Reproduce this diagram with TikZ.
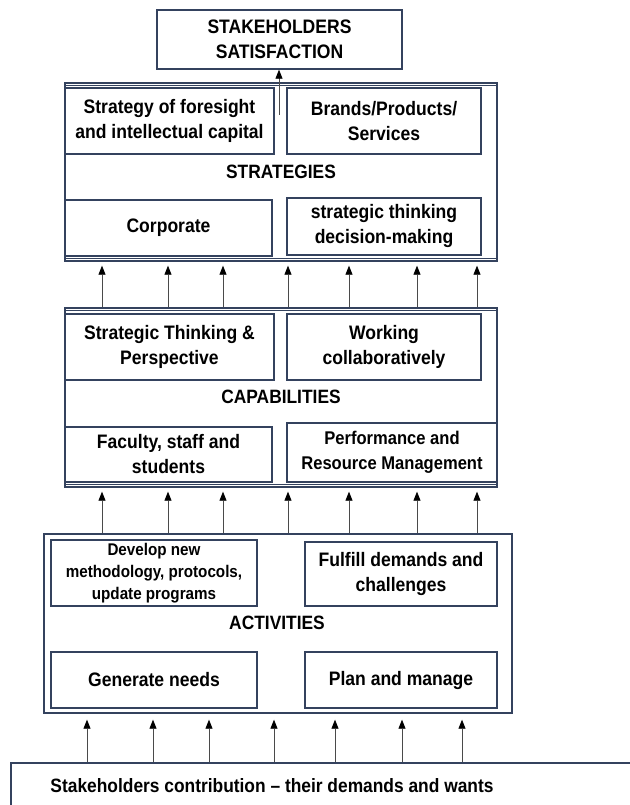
\documentclass[tikz,border=0pt]{standalone}
\usepackage{fontspec}
\setmainfont{Liberation Sans}[FakeStretch=0.9]
\usetikzlibrary{arrows.meta}
\definecolor{frame}{HTML}{34425E}
\definecolor{wire}{HTML}{4A4A4A}
\begin{document}
\begin{tikzpicture}[x=1pt,y=-1pt,
  box/.style={draw=frame, line width=1.4pt, fill=white, align=center,
    inner sep=0pt, font=\bfseries\fontsize{19.5}{25}\selectfont},
  smallbox/.style={box, font=\bfseries\fontsize{16.9}{22}\selectfont},
  midbox/.style={box, font=\bfseries\fontsize{18.4}{25}\selectfont},
  layer/.style={draw=frame, line width=1.4pt, inner sep=0pt},
  title/.style={font=\bfseries\fontsize{19.3}{25}\selectfont, inner sep=0pt},
  arr/.style={draw=wire, line width=0.8pt,
    -{Triangle[length=9pt,width=7pt,color=black]}}]
\useasboundingbox (0,0) rectangle (629,805);

% top result
\node[box, minimum width=245pt, minimum height=59pt] (top) at (279.5,39.5)
  {STAKEHOLDERS\\SATISFACTION};

% strategies layer
\node[layer, minimum width=432pt, minimum height=178pt] (strat) at (281,172) {};
\draw[frame, line width=1.2pt] ([yshift=-3pt]strat.north west) -- ([yshift=-3pt]strat.north east);
\draw[frame, line width=1.2pt] ([yshift=3pt]strat.south west) -- ([yshift=3pt]strat.south east);
\node[box, minimum width=209pt, minimum height=66pt] (s1) at (169.5,121)
  {Strategy of foresight\\and intellectual capital};
\node[box, minimum width=194pt, minimum height=66pt] (s2) at (384,121)
  {Brands/Products/\\Services};
\node[title] (stratlbl) at (281,172) {STRATEGIES};
\node[box, minimum width=207pt, minimum height=56pt] (s3) at (168.5,228) {Corporate};
\node[box, minimum width=194pt, minimum height=57pt] (s4) at (384,226.5)
  {strategic thinking\\decision-making};

% capabilities layer
\node[layer, minimum width=432pt, minimum height=179pt] (cap) at (281,397.5) {};
\draw[frame, line width=1.2pt] ([yshift=-3pt]cap.north west) -- ([yshift=-3pt]cap.north east);
\draw[frame, line width=1.2pt] ([yshift=3pt]cap.south west) -- ([yshift=3pt]cap.south east);
\node[box, minimum width=209pt, minimum height=66pt] (c1) at (169.5,347)
  {Strategic Thinking \&\\Perspective};
\node[box, minimum width=194pt, minimum height=66pt] (c2) at (384,347)
  {Working\\collaboratively};
\node[title] (caplbl) at (281,397) {CAPABILITIES};
\node[box, minimum width=207pt, minimum height=55pt] (c3) at (168.5,454.5)
  {Faculty, staff and\\students};
\node[midbox, minimum width=210pt, minimum height=59pt] (c4) at (392,452.5)
  {Performance and\\Resource Management};

% activities layer
\node[layer, minimum width=468pt, minimum height=179pt] (act) at (278,623.5) {};
\node[smallbox, minimum width=206pt, minimum height=66pt] (a1) at (154,573)
  {Develop new\\methodology, protocols,\\update programs};
\node[box, minimum width=192pt, minimum height=64pt] (a2) at (401,574)
  {Fulfill demands and\\challenges};
\node[title] (actlbl) at (277,623) {ACTIVITIES};
\node[box, minimum width=206pt, minimum height=56pt] (a3) at (154,680) {Generate needs};
\node[box, minimum width=192pt, minimum height=56pt] (a4) at (401,680) {Plan and manage};

% stakeholder input
\node[layer, fill=white, minimum width=640pt, minimum height=60pt] (base) at (331,793) {};
\node[title] (baselbl) at (272,786)
  {Stakeholders contribution -- their demands and wants};

% arrows between capabilities and strategies, activities and capabilities
\foreach \i/\x in {1/102,2/168,3/223,4/288,5/349,6/417,7/477} {
  \coordinate (u\i) at (\x,0);
  \draw[arr, shorten >=4pt] (cap.north -| u\i) -- (strat.south -| u\i);
  \draw[arr, shorten >=4pt] (act.north -| u\i) -- (cap.south -| u\i);
}
% arrows from the stakeholder input to activities
\foreach \i/\x in {1/87,2/153,3/209,4/274,5/335,6/402,7/462} {
  \coordinate (b\i) at (\x,0);
  \draw[arr, shorten >=6pt] (base.north -| b\i) -- (act.south -| b\i);
}
% arrow up to satisfaction
\coordinate (s0) at (279,115);
\draw[arr] (s0) -- (top.south -| s0);
\end{tikzpicture}
\end{document}
